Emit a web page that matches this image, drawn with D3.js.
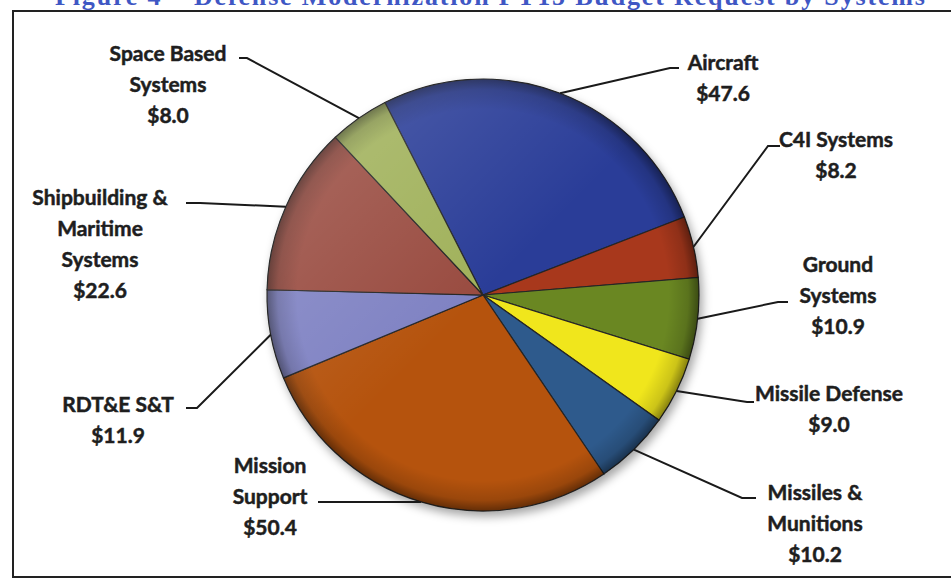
<!DOCTYPE html>
<meta charset="utf-8">
<style>
body { margin: 0; background: #fff; }
.label { font-family: Lato, "Open Sans", sans-serif; font-weight: bold; font-size: 21px;
         fill: #1e1e1e; stroke: #1e1e1e; stroke-width: 0.5px; }
.leader { fill: none; stroke: #1a1a1a; stroke-width: 2px; }
</style>
<body>
<script src="https://d3js.org/d3.v7.min.js"></script>
<script>

// data
var systems = ["Aircraft", "C4I Systems", "Ground Systems", "Missile Defense",
               "Missiles & Munitions", "Mission Support", "RDT&E S&T",
               "Shipbuilding & Maritime Systems", "Space Based Systems"];
var budget = [47.6, 8.2, 10.9, 9.0, 10.2, 50.4, 11.9, 22.6, 8.0];
var labelLines = [
  ["Aircraft"], ["C4I Systems"], ["Ground", "Systems"], ["Missile Defense"],
  ["Missiles &", "Munitions"], ["Mission", "Support"], ["RDT&E S&T"],
  ["Shipbuilding &", "Maritime", "Systems"], ["Space Based", "Systems"]
];
var colors = ["#2a3c98", "#a8381c", "#6a8722", "#f0e61a", "#2d5a8c",
              "#b5530e", "#7f82c3", "#994c40", "#a0b15a"];

var width = 951, height = 578;
var cx = 483, cy = 295, radius = 216;

// label layout: text centre x, first baseline y, elbow and end of the leader line
var layout = [
  {x: 723, y: 70,  elbow: [670, 68],  end: [679, 68]},
  {x: 836, y: 147, elbow: [768, 146], end: [780, 146]},
  {x: 838, y: 272, elbow: [778, 302], end: [788, 302]},
  {x: 829, y: 401, elbow: [747, 402], end: [754, 402]},
  {x: 815, y: 500, elbow: [742, 498], end: [756, 498]},
  {x: 270, y: 473, elbow: [330, 502], end: [318, 502]},
  {x: 118, y: 412, elbow: [197, 408], end: [186, 408]},
  {x: 100, y: 205, elbow: [200, 203], end: [186, 203]},
  {x: 168, y: 61,  elbow: [247, 58],  end: [239, 58]}
];

var svg = d3.select("body").append("svg")
    .attr("width", width)
    .attr("height", height);

var defs = svg.append("defs");

// soft shadow under the pie
var shadow = defs.append("filter").attr("id", "shadow")
    .attr("x", "-20%").attr("y", "-20%").attr("width", "140%").attr("height", "140%");
shadow.append("feDropShadow")
    .attr("dx", 3).attr("dy", 5).attr("stdDeviation", 5)
    .attr("flood-color", "#000").attr("flood-opacity", 0.35);

// rim darkening for the bevel look
var rim = defs.append("radialGradient").attr("id", "rim");
rim.selectAll("stop")
    .data([
      {offset: "0%",   op: 0},
      {offset: "86%",  op: 0},
      {offset: "95%",  op: 0.15},
      {offset: "100%", op: 0.45}
    ])
  .enter().append("stop")
    .attr("offset", function(d) { return d.offset; })
    .attr("stop-color", "#000")
    .attr("stop-opacity", function(d) { return d.op; });

// highlight from the top left
var shine = defs.append("linearGradient").attr("id", "shine")
    .attr("x1", "0%").attr("y1", "0%").attr("x2", "100%").attr("y2", "100%");
shine.selectAll("stop")
    .data([
      {offset: "0%",   op: 0.2},
      {offset: "50%",  op: 0.0},
      {offset: "100%", op: 0.0}
    ])
  .enter().append("stop")
    .attr("offset", function(d) { return d.offset; })
    .attr("stop-color", "#fff")
    .attr("stop-opacity", function(d) { return d.op; });

// title, mostly cut off at the top of the picture
svg.append("text")
    .attr("x", 55)
    .attr("y", 5)
    .attr("textLength", 870)
    .style("font-family", "'Liberation Serif', 'Times New Roman', serif")
    .style("font-weight", "bold")
    .style("font-size", "26px")
    .style("fill", "#3f57c4")
    .text("Figure 4 \u2013 Defense Modernization FY15 Budget Request by Systems");

// frame
svg.append("rect")
    .attr("x", 13).attr("y", 11)
    .attr("width", 950).attr("height", 566)
    .style("fill", "none")
    .style("stroke", "#222")
    .style("stroke-width", 2);

var startAngle = -27 * Math.PI / 180;
var pie = d3.pie()
    .sort(null)
    .value(function(d) { return d; })
    .startAngle(startAngle)
    .endAngle(startAngle + 2 * Math.PI);

var arcs = pie(budget);

var arc = d3.arc().innerRadius(0).outerRadius(radius);

var g = svg.append("g")
    .attr("transform", "translate(" + cx + "," + cy + ")");

var slices = g.append("g").attr("filter", "url(#shadow)");

slices.selectAll("path.slice")
    .data(arcs)
  .enter().append("path")
    .attr("class", "slice")
    .attr("d", arc)
    .style("fill", function(d, i) { return colors[i]; })
    .style("stroke", "#262626")
    .style("stroke-width", 1.2);

g.append("circle")
    .attr("r", radius)
    .style("fill", "url(#rim)")
    .style("pointer-events", "none");

g.append("circle")
    .attr("r", radius)
    .style("fill", "url(#shine)")
    .style("pointer-events", "none");

// leader lines from the slice middle on the rim
svg.selectAll("path.leader")
    .data(arcs)
  .enter().append("path")
    .attr("class", "leader")
    .attr("d", function(d, i) {
      var a = (d.startAngle + d.endAngle) / 2;
      var p = [cx + radius * Math.sin(a), cy - radius * Math.cos(a)];
      var L = layout[i];
      return d3.line()([p, L.elbow, L.end]);
    });

// labels
var labels = svg.selectAll("text.label")
    .data(arcs)
  .enter().append("text")
    .attr("class", "label")
    .attr("text-anchor", "middle");

labels.each(function(d, i) {
  var t = d3.select(this);
  var L = layout[i];
  var lines = labelLines[i].concat(["$" + budget[i].toFixed(1)]);
  lines.forEach(function(s, k) {
    t.append("tspan")
      .attr("x", L.x)
      .attr("y", L.y + k * 31)
      .text(s);
  });
});

</script>
</body>
